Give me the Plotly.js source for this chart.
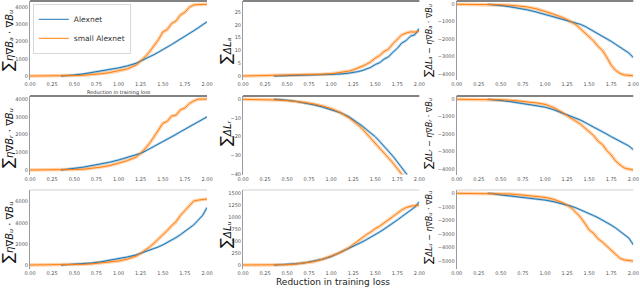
<!DOCTYPE html>
<html>
<head>
<meta charset="utf-8">
<script src="https://cdn.plot.ly/plotly-3.0.1.min.js"></script>
<style>html,body{margin:0;padding:0;background:#fff}#chart{width:640px;height:288px}</style>
</head>
<body>
<div id="chart"></div>
<script>
// ---- data ----
const N = null;
const xLoss = [0, 0.1, 0.2, 0.3, 0.35, 0.4, 0.5, 0.6, 0.7, 0.8, 0.9, 1.0, 1.1, 1.2, 1.25, 1.3, 1.35, 1.4, 1.45, 1.5, 1.55, 1.6, 1.65, 1.7, 1.75, 1.8, 1.85, 1.9, 1.95, 2.0];
const seriesNames = ["Alexnet", "small Alexnet"];
const xTickLabels = ["0.00","0.25","0.50","0.75","1.00","1.25","1.50","1.75","2.00"];

// row 1 (a)
const dotA_alex  = [N,N,N,N,0,15,60,120,200,290,380,470,590,740,870,980,1100,1240,1380,1520,1680,1830,1990,2140,2320,2480,2630,2800,2960,3150];
const dotA_small = [0,0,2,5,8,12,25,45,80,130,200,290,420,640,870,1110,1400,1720,2100,2550,2700,3050,3200,3550,3700,4000,4130,4150,4160,4170];
const dLA_alex   = [N,N,N,N,0,0.05,0.15,0.2,0.3,0.35,0.45,0.55,0.75,1.1,1.3,1.7,2.1,2.6,3.4,4.5,5.2,6.6,7.5,9.3,10.8,12.9,13.9,15.6,16.2,18.6];
const dLA_small  = [0,0.05,0.1,0.15,0.2,0.2,0.3,0.35,0.45,0.55,0.7,0.9,1.3,1.9,2.4,3.0,3.8,4.6,5.6,7.0,8.0,9.6,10.5,12.6,14.4,16.1,16.8,17.3,17.2,17.6];
const resA_alex  = [N,N,N,N,0,-10,-70,-140,-220,-320,-440,-580,-700,-830,-900,-970,-1050,-1150,-1260,-1400,-1540,-1700,-1820,-1950,-2130,-2300,-2480,-2650,-2800,-3060];
const resA_small = [0,0,-2,-5,-8,-12,-25,-50,-90,-150,-260,-410,-570,-760,-880,-1010,-1170,-1400,-1620,-1880,-2100,-2420,-2650,-3050,-3500,-3800,-3970,-4060,-4090,-4110];
// row 2 (r)
const dotR_alex  = [N,N,N,N,0,20,95,160,240,330,440,565,700,860,940,1060,1190,1320,1460,1600,1740,1870,2010,2160,2300,2430,2560,2700,2830,3000];
const dotR_small = [0,0,2,5,8,12,25,45,95,160,250,380,530,730,940,1190,1500,1850,2250,2640,2750,3050,3100,3400,3500,3750,3900,4000,4000,4010];
const dLR_alex   = [N,N,N,N,0,-0.1,-0.5,-1.1,-1.9,-2.9,-4.1,-5.4,-7.1,-9.3,-10.8,-12.4,-14.2,-16.1,-17.9,-20,-22.5,-25,-27.6,-30.4,-33.4,-36.6,-40,-43,-46,-49];
const dLR_small  = [0,0,-0.1,-0.2,-0.3,-0.4,-0.7,-1.1,-1.7,-2.5,-3.5,-5,-7,-9.8,-11.5,-13.5,-15.6,-18.2,-20.6,-23.5,-26,-28.8,-31,-34,-37,-40.5,-43,-45,-46,-47];
const resR_alex  = [N,N,N,N,0,-10,-70,-130,-200,-280,-360,-450,-600,-790,-900,-990,-1090,-1190,-1320,-1480,-1600,-1730,-1850,-2000,-2150,-2270,-2400,-2550,-2680,-2900];
const resR_small = [0,0,-2,-5,-8,-12,-25,-50,-90,-140,-200,-290,-480,-760,-950,-1100,-1260,-1420,-1640,-1860,-2080,-2400,-2600,-2950,-3200,-3550,-3780,-3950,-4020,-4060];
// row 3 (u)
const dotU_alex  = [N,N,N,N,0,20,80,130,190,300,430,570,760,960,1100,1230,1380,1540,1710,1900,2120,2350,2600,2880,3160,3450,3800,4250,4700,5450];
const dotU_small = [0,0,3,8,12,18,35,65,110,180,270,380,560,850,1100,1380,1700,2050,2450,2850,3250,3750,4100,4700,5150,5600,6050,6150,6200,6250];
const dLU_alex   = [N,N,N,N,0,4,15,25,45,80,120,175,260,340,385,430,480,530,580,630,690,750,810,870,940,1010,1080,1150,1210,1320];
const dLU_small  = [0,0,1,2,3,4,8,20,40,70,120,185,260,360,430,490,560,640,690,760,810,880,940,1010,1080,1150,1200,1230,1240,1250];
const resU_alex  = [N,N,N,N,0,-20,-120,-190,-270,-350,-420,-500,-620,-770,-860,-960,-1070,-1200,-1340,-1480,-1640,-1800,-1970,-2150,-2350,-2560,-2800,-3050,-3300,-3800];
const resU_small = [0,0,-2,-5,-8,-12,-25,-55,-100,-160,-220,-300,-450,-680,-860,-1080,-1400,-1750,-2200,-2700,-2950,-3350,-3600,-3900,-4200,-4500,-4800,-4920,-4980,-5000];

// ---- layout helpers (pixel geometry) ----
const W = 640, H = 288;
const colsPx = [[30, 207], [243, 419.3], [456.7, 633.3]];
const rowsPx = [[1, 79.5], [96, 174.5], [190, 268.5]];
const subs = ["ₐ", "ᵣ", "ᵤ"];
const blue = "#1f77b4", orange = "#ff7f0e";

const panelData = [
  [dotA_alex, dotA_small], [dLA_alex, dLA_small], [resA_alex, resA_small],
  [dotR_alex, dotR_small], [dLR_alex, dLR_small], [resR_alex, resR_small],
  [dotU_alex, dotU_small], [dLU_alex, dLU_small], [resU_alex, resU_small]
];
const yRanges = [[-203, 4360], [-1.37, 29.4], [-4322, 190],
                 [-254, 4181], [-40.2, 1.77], [-4322, 190],
                 [-332, 7109], [-73, 1569], [-5550, 244]];
const yDticks = [1000, 5, 1000, 1000, 10, 1000, 2000, 250, 1000];
const titleCenters = [[8, 41], [226, 51], [428, 41],
                      [8, 138], [226, 133], [428, 134],
                      [8, 233], [226, 235], [428, 228]];

function yTitle(col, s) {
  if (col === 0) return '<span style="font-size:15px">∑</span><i>η∇B' + s + '</i> · <i>∇Bᵤ</i>';
  if (col === 1) return '<span style="font-size:15px">∑</span><i>ΔL' + s + '</i>';
  return '<span style="font-size:11px">∑</span><i>ΔL' + s + '</i> − <i>η∇B' + s + '</i> · <i>∇Bᵤ</i>';
}

const traces = [];
const layout = {
  width: W, height: H,
  margin: {l: 0, r: 0, t: 0, b: 0},
  paper_bgcolor: "#fff", plot_bgcolor: "#fff",
  font: {family: "DejaVu Sans", color: "#333"},
  showlegend: true,
  legend: {x: 33 / W, y: 1 - 4 / H, xanchor: "left", yanchor: "top",
           font: {size: 7.5, color: "#333"}, bgcolor: "rgba(255,255,255,0.9)",
           bordercolor: "#d0d0d0", borderwidth: 0.8, itemwidth: 30, tracegroupgap: 0},
  shapes: [], annotations: []
};

for (let i = 0; i < 9; i++) {
  const r = Math.floor(i / 3), c = i % 3;
  const n = i + 1;
  const xa = "x" + (n === 1 ? "" : n), ya = "y" + (n === 1 ? "" : n);
  const [alex, small] = panelData[i];
  // translucent bands (drawn first)
  traces.push({x: xLoss, y: alex, xaxis: xa, yaxis: ya, mode: "lines", showlegend: false, hoverinfo: "skip",
               line: {color: blue, width: 2.5}, opacity: 0.35});
  traces.push({x: xLoss, y: small, xaxis: xa, yaxis: ya, mode: "lines", showlegend: false, hoverinfo: "skip",
               line: {color: orange, width: 3.5}, opacity: 0.35});
  traces.push({x: xLoss, y: alex, xaxis: xa, yaxis: ya, mode: "lines", name: seriesNames[0], legendgroup: "a",
               showlegend: i === 0, line: {color: blue, width: 1}});
  traces.push({x: xLoss, y: small, xaxis: xa, yaxis: ya, mode: "lines", name: seriesNames[1], legendgroup: "s",
               showlegend: i === 0, line: {color: orange, width: 1}});

  const xd = [colsPx[c][0] / W, colsPx[c][1] / W];
  const yd = [1 - rowsPx[r][1] / H, 1 - rowsPx[r][0] / H];
  layout["xaxis" + (n === 1 ? "" : n)] = {
    domain: xd, range: [0, 2], anchor: ya, tickmode: "array",
    tickvals: xTickLabels.map(Number), ticktext: xTickLabels,
    showgrid: false, zeroline: false, showline: false, ticks: "",
    tickfont: {size: 5, color: "#555"}
  };
  layout["yaxis" + (n === 1 ? "" : n)] = {
    domain: yd, range: yRanges[i], anchor: xa, tickmode: "linear", tick0: 0, dtick: yDticks[i],
    showgrid: false, zeroline: false, showline: true, linecolor: "#9a9a9a", linewidth: 1, ticks: "",
    tickfont: {size: 5, color: "#555"}
  };
  // top spine
  layout.shapes.push({type: "line", xref: "paper", yref: "paper", x0: xd[0], x1: xd[1], y0: yd[1], y1: yd[1],
                      line: {color: r < 2 ? "#5a5a5a" : "#cfcfcf", width: r < 2 ? 1.6 : 1}});
  // y-axis title
  const [tx, ty] = titleCenters[i];
  layout.annotations.push({text: yTitle(c, subs[r]), xref: "paper", yref: "paper", x: tx / W, y: 1 - ty / H,
                           xanchor: "center", yanchor: "middle", textangle: -90, showarrow: false,
                           font: {size: c === 2 ? 8 : 10, color: "#111", family: "DejaVu Sans"}});
}

layout.annotations.push({text: "Reduction in training loss", xref: "paper", yref: "paper",
  x: 119 / W, y: 1 - 92 / H, xanchor: "center", yanchor: "middle", showarrow: false,
  font: {size: 5, color: "#333"}});
layout.annotations.push({text: "Reduction in training loss", xref: "paper", yref: "paper",
  x: 333 / W, y: 1 - 282 / H, xanchor: "center", yanchor: "middle", showarrow: false,
  font: {size: 9, color: "#222"}});

Plotly.newPlot("chart", traces, layout, {displayModeBar: false, staticPlot: true});
</script>
</body>
</html>
